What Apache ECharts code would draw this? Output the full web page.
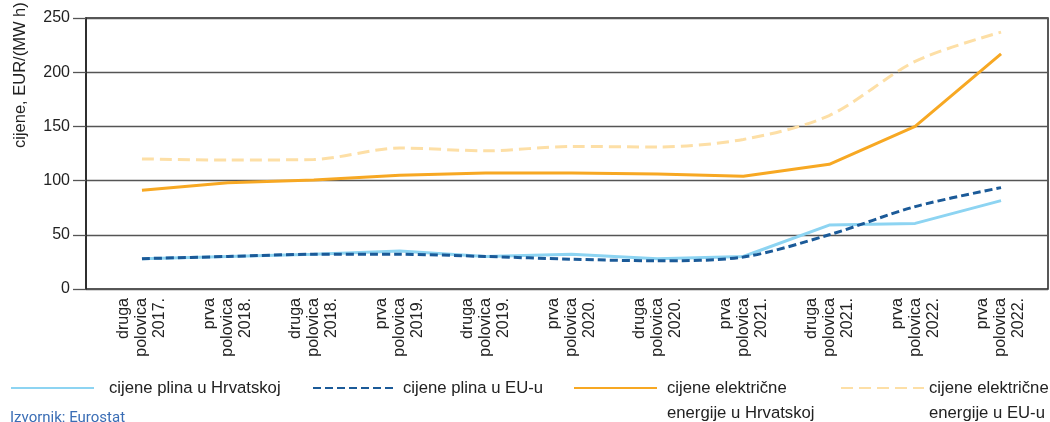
<!DOCTYPE html>
<html>
<head>
<meta charset="utf-8">
<script src="https://cdn.jsdelivr.net/npm/echarts@6/dist/echarts.min.js"></script>
<style>
  html, body { margin: 0; padding: 0; background: #fff; }
  #chart { width: 1050px; height: 422px; }
</style>
</head>
<body>
<div id="chart"></div>
<script>
  // half-year periods (the last label is repeated in the source)
  var periods = ['druga\npolovica\n2017.', 'prva\npolovica\n2018.', 'druga\npolovica\n2018.',
    'prva\npolovica\n2019.', 'druga\npolovica\n2019.', 'prva\npolovica\n2020.',
    'druga\npolovica\n2020.', 'prva\npolovica\n2021.', 'druga\npolovica\n2021.',
    'prva\npolovica\n2022.', 'prva\npolovica\n2022.'];
  var plinHR = [28, 30, 32, 35, 30, 32, 28, 30, 59, 60.5, 81.5];
  var plinEU = [28, 30, 32, 32, 30, 27.5, 26, 29.5, 50, 76, 93.5];
  var strujaHR = [91, 98, 100.5, 105, 107, 107, 106, 104, 115, 150, 217];
  var strujaEU = [120, 119, 119.5, 130, 127.5, 131.5, 131, 138, 160, 210, 237];
  var yTicks = { min: 0, max: 250, step: 50 };

  var chart = echarts.init(document.getElementById('chart'));
  var font = 'Liberation Sans';

  function legendFor(name, left, top, padLeft, twoLines) {
    return {
      data: [name],
      left: left,
      top: top,
      orient: 'horizontal',
      itemWidth: 83,
      itemHeight: 14,
      padding: 0,
      selectedMode: false,
      itemStyle: { opacity: 0 },
      // blank first line keeps the icon level with the first text line
      formatter: function (n) { return twoLines ? '\n' + n : n; },
      textStyle: {
        fontFamily: font, fontSize: 16.7, color: '#222', lineHeight: 25,
        padding: [0, 0, 0, padLeft]
      }
    };
  }

  var option = {
    animation: false,
    backgroundColor: '#fff',
    grid: [
      { left: 86, right: 2, top: 18, bottom: 133, show: true, borderColor: '#222', borderWidth: 1.5 },
      { left: 99, right: 6, top: 18, bottom: 133 }
    ],
    xAxis: [
      { gridIndex: 0, type: 'value', min: 0, max: 1, show: false },
      {
        gridIndex: 1, type: 'category', data: periods, boundaryGap: true,
        axisLine: { show: false }, axisTick: { show: false },
        axisLabel: { interval: 0, rotate: 90, margin: 9, fontFamily: font, fontSize: 16, lineHeight: 18, color: '#222' }
      }
    ],
    yAxis: [
      {
        gridIndex: 0, type: 'value', min: yTicks.min, max: yTicks.max, interval: yTicks.step,
        axisLine: { show: true, lineStyle: { color: '#222', width: 1.5 } },
        axisTick: { show: true, length: 13, lineStyle: { color: '#555', width: 1.3 } },
        splitLine: { show: true, lineStyle: { color: '#555', width: 1.3 } },
        axisLabel: { margin: 16, fontFamily: font, fontSize: 16, color: '#222' }
      },
      { gridIndex: 1, type: 'value', min: yTicks.min, max: yTicks.max, show: false, splitLine: { show: false } }
    ],
    legend: [
      legendFor('cijene plina u Hrvatskoj', 10, 375.5, 10, false),
      legendFor('cijene plina u EU-u', 312, 375.5, 2, false),
      legendFor('cijene električne\nenergije u Hrvatskoj', 573, 350.5, 5, true),
      legendFor('cijene električne\nenergije u EU-u', 840, 350.5, 0, true)
    ],
    graphic: [
      {
        type: 'text', x: 12, y: 148,
        rotation: Math.PI / 2,
        style: { text: 'cijene, EUR/(MW h)', fontFamily: font, fontSize: 16.5, fill: '#222' }
      },
      {
        type: 'text', left: 10, top: 411,
        style: { text: 'Izvornik: Eurostat', fontFamily: 'Roboto', fontSize: 15, fill: '#3a6db5' }
      }
    ],
    series: [
      {
        name: 'cijene električne\nenergije u EU-u', type: 'line', xAxisIndex: 1, yAxisIndex: 1,
        data: strujaEU, symbol: 'none', smooth: 0.3,
        lineStyle: { color: '#fddfa6', width: 3, type: [12, 6] }, itemStyle: { color: '#fddfa6' }
      },
      {
        name: 'cijene električne\nenergije u Hrvatskoj', type: 'line', xAxisIndex: 1, yAxisIndex: 1,
        data: strujaHR, symbol: 'none',
        lineStyle: { color: '#f7a823', width: 3 }, itemStyle: { color: '#f7a823' }
      },
      {
        name: 'cijene plina u Hrvatskoj', type: 'line', xAxisIndex: 1, yAxisIndex: 1,
        data: plinHR, symbol: 'none',
        lineStyle: { color: '#8dd4f2', width: 3 }, itemStyle: { color: '#8dd4f2' }
      },
      {
        name: 'cijene plina u EU-u', type: 'line', xAxisIndex: 1, yAxisIndex: 1,
        data: plinEU, symbol: 'none', smooth: 0.3,
        lineStyle: { color: '#1b5a98', width: 3, type: [8, 4] }, itemStyle: { color: '#1b5a98' }
      }
    ]
  };
  chart.setOption(option);
</script>
</body>
</html>
